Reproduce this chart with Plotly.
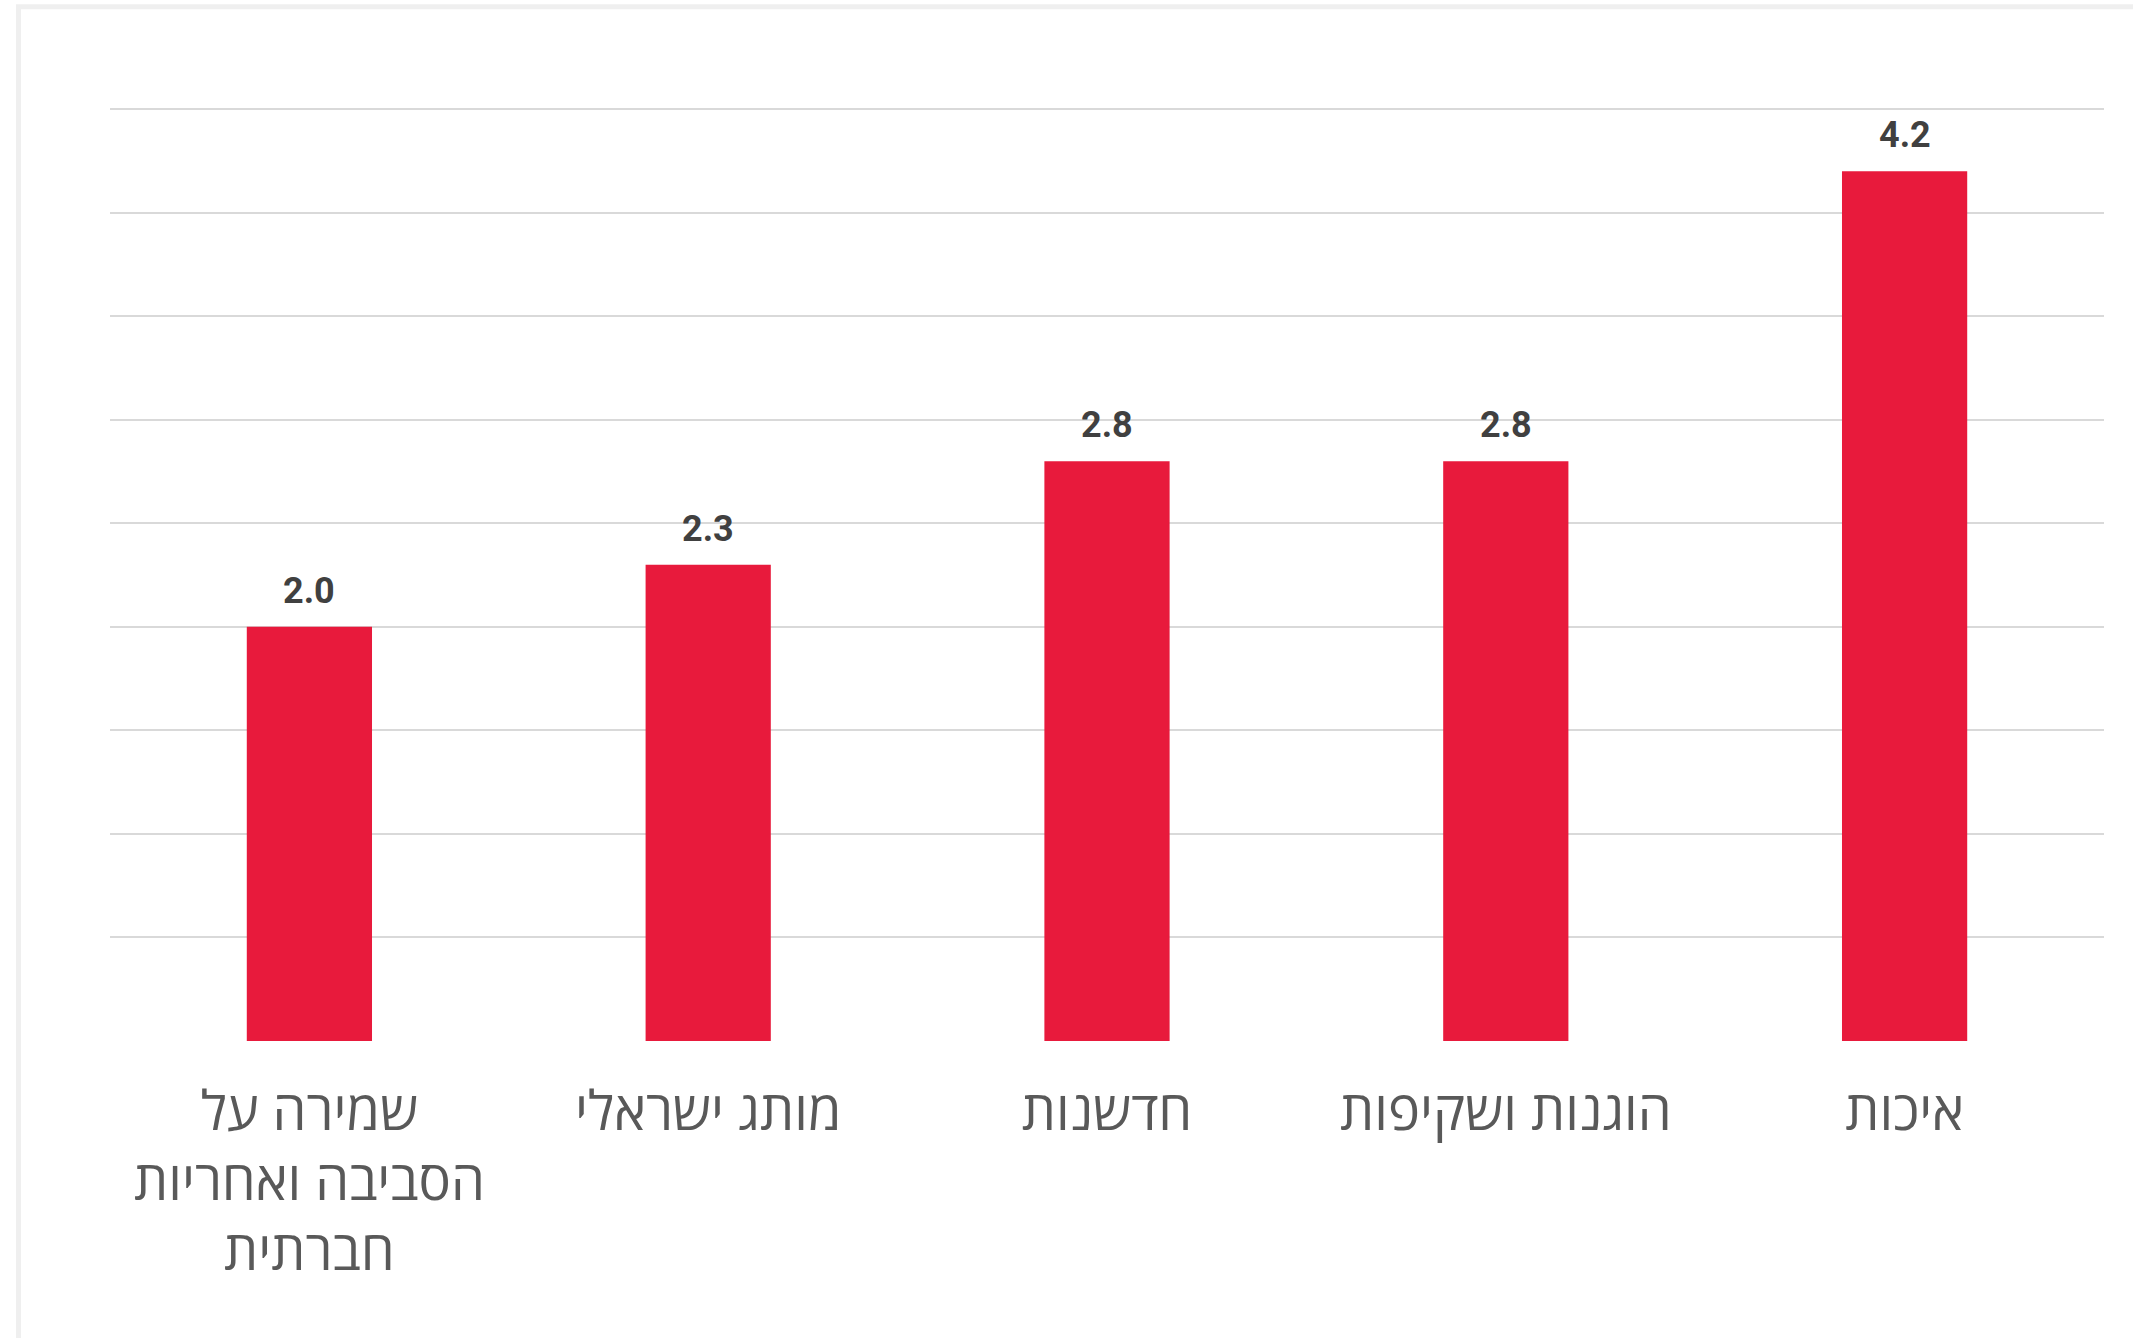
import plotly.graph_objects as go

# Brand attribute scores (right-to-left category order)
categories = [
    "איכות",
    "הוגנות ושקיפות",
    "חדשנות",
    "מותג ישראלי",
    "שמירה על<br>הסביבה ואחריות<br>חברתית",
]
scores = [4.2, 2.8, 2.8, 2.3, 2.0]
score_labels = [f"{v:.1f}" for v in scores]

BAR_COLOR = "#E81A3C"
GRID_COLOR = "#D9D9D9"

fig = go.Figure()
fig.add_trace(go.Bar(
    x=categories,
    y=scores,
    marker=dict(color=BAR_COLOR, line=dict(width=0)),
    hoverinfo="skip",
))

# Value labels above each bar
for cat, val, lab in zip(categories, scores, score_labels):
    fig.add_annotation(
        x=cat, y=val, text=f"<b>{lab}</b>", showarrow=False,
        xref="x", yref="y", yanchor="middle", yshift=36,
        font=dict(family="Roboto", size=36, color="#404040"),
    )

# Light outer frame around the chart card
fig.add_shape(
    type="rect", xref="paper", yref="paper",
    x0=-0.0459, x1=1.05, y0=-0.40, y1=1.1049,
    line=dict(color="#EFEFEF", width=5), fillcolor="rgba(0,0,0,0)",
    layer="below",
)

fig.update_layout(
    width=2133, height=1338,
    margin=dict(l=110, r=29, t=105, b=297),
    paper_bgcolor="white", plot_bgcolor="white",
    bargap=0.686,
    showlegend=False,
    xaxis=dict(
        autorange="reversed",
        showgrid=False, showline=False, zeroline=False,
        ticks="", ticklabelstandoff=34,
        tickfont=dict(family="Open Sans", size=54, color="#595959"),
    ),
    yaxis=dict(
        range=[0, 4.52], dtick=0.5, tick0=0,
        showgrid=True, gridcolor=GRID_COLOR, gridwidth=2,
        zeroline=False, showline=False, showticklabels=False, ticks="",
    ),
)

fig.write_html("out.html")
